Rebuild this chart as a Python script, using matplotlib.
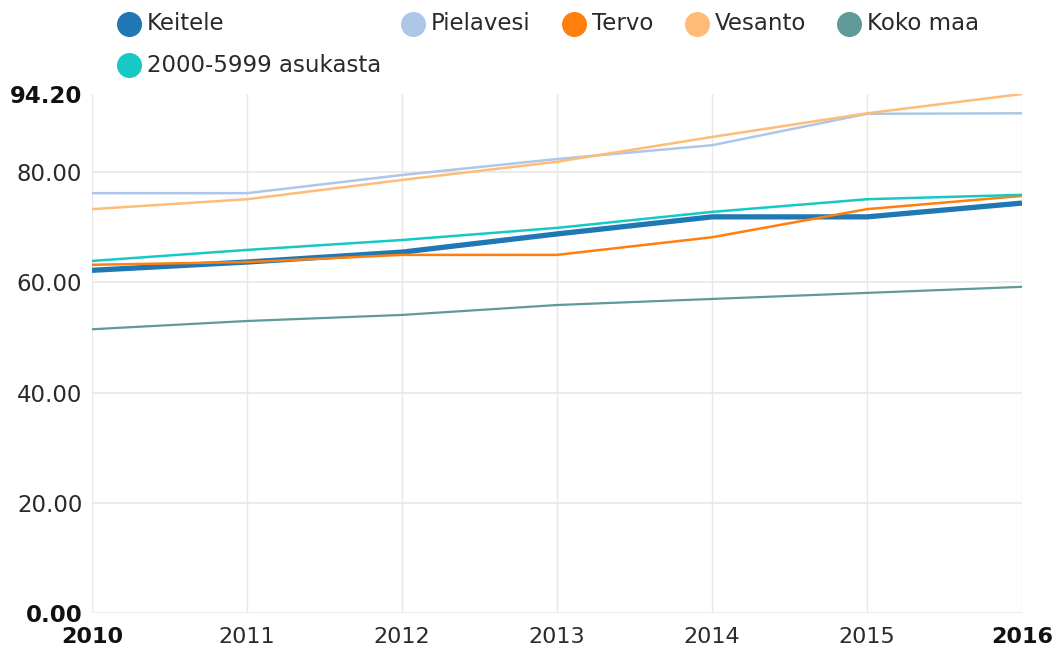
import numpy as np
import matplotlib
matplotlib.use("Agg")
import matplotlib.pyplot as plt

plt.rcParams.update({"font.family": "DejaVu Sans"})

years = [2010, 2011, 2012, 2013, 2014, 2015, 2016]

keitele = [62.2, 63.7, 65.5, 68.8, 71.9, 71.9, 74.4]
pielavesi = [76.2, 76.2, 79.5, 82.4, 84.9, 90.6, 90.7]
tervo = [63.2, 63.7, 65.0, 65.0, 68.2, 73.3, 75.7]
vesanto = [73.3, 75.1, 78.6, 81.9, 86.4, 90.7, 94.2]
koko_maa = [51.5, 53.0, 54.1, 55.9, 57.0, 58.1, 59.2]
asukasta = [63.9, 65.9, 67.7, 69.9, 72.8, 75.1, 75.9]

names = ["Keitele", "Pielavesi", "Tervo", "Vesanto", "Koko maa", "2000-5999 asukasta"]
series = [keitele, pielavesi, tervo, vesanto, koko_maa, asukasta]
colors = ["#1f77b4", "#aec7e8", "#ff7f0e", "#ffbb78", "#5f9a96", "#17c9c4"]
widths = [3.8, 1.8, 1.8, 1.8, 1.6, 1.8]

y_ticks = [0, 20, 40, 60, 80, 94.2]
y_labels = ["0.00", "20.00", "40.00", "60.00", "80.00", "94.20"]

W, H = 1059, 652
fig = plt.figure(figsize=(W / 100, H / 100), dpi=100)
ax = fig.add_axes([92 / W, 1 - 613 / H, (1022 - 92) / W, (613 - 94) / H])

grid_c = "#e8e8e8"
for yr in years:
    ax.axvline(yr, color=grid_c, lw=1, zorder=0)
for v in y_ticks[:-1]:
    ax.axhline(v, color=grid_c, lw=1.2, zorder=0)

for name, vals, c, lw in zip(names, series, colors, widths):
    ax.plot(years, vals, color=c, lw=lw, solid_capstyle="butt", zorder=2)

ax.set_xlim(years[0], years[-1])
ax.set_ylim(0, 94.2)
for s in ax.spines.values():
    s.set_visible(False)

ax.set_yticks(y_ticks)
ax.set_yticklabels(y_labels, fontsize=16.5, color="#2a2a2a")
ax.set_xticks(years)
ax.set_xticklabels([str(y) for y in years], fontsize=16, color="#2a2a2a")
ax.tick_params(axis="y", length=0, pad=7)
ax.tick_params(axis="x", length=0, pad=10)
for lbl in (ax.get_yticklabels()[0], ax.get_yticklabels()[-1],
            ax.get_xticklabels()[0], ax.get_xticklabels()[-1]):
    lbl.set_fontweight("bold")
    lbl.set_color("#111111")

# legend drawn by hand at the top
leg_pos = [(129, 24), (413, 24), (574, 24), (697, 24), (849, 24), (129, 65)]
for name, c, (px, py) in zip(names, colors, leg_pos):
    fig.lines.append(plt.Line2D([px / W], [1 - py / H], marker="o", markersize=17,
                                color=c, markeredgecolor=c, transform=fig.transFigure))
    fig.text((px + 18) / W, 1 - py / H, name, fontsize=16.5, color="#2a2a2a",
             va="center", ha="left")

fig.savefig("out.png", dpi=100)
